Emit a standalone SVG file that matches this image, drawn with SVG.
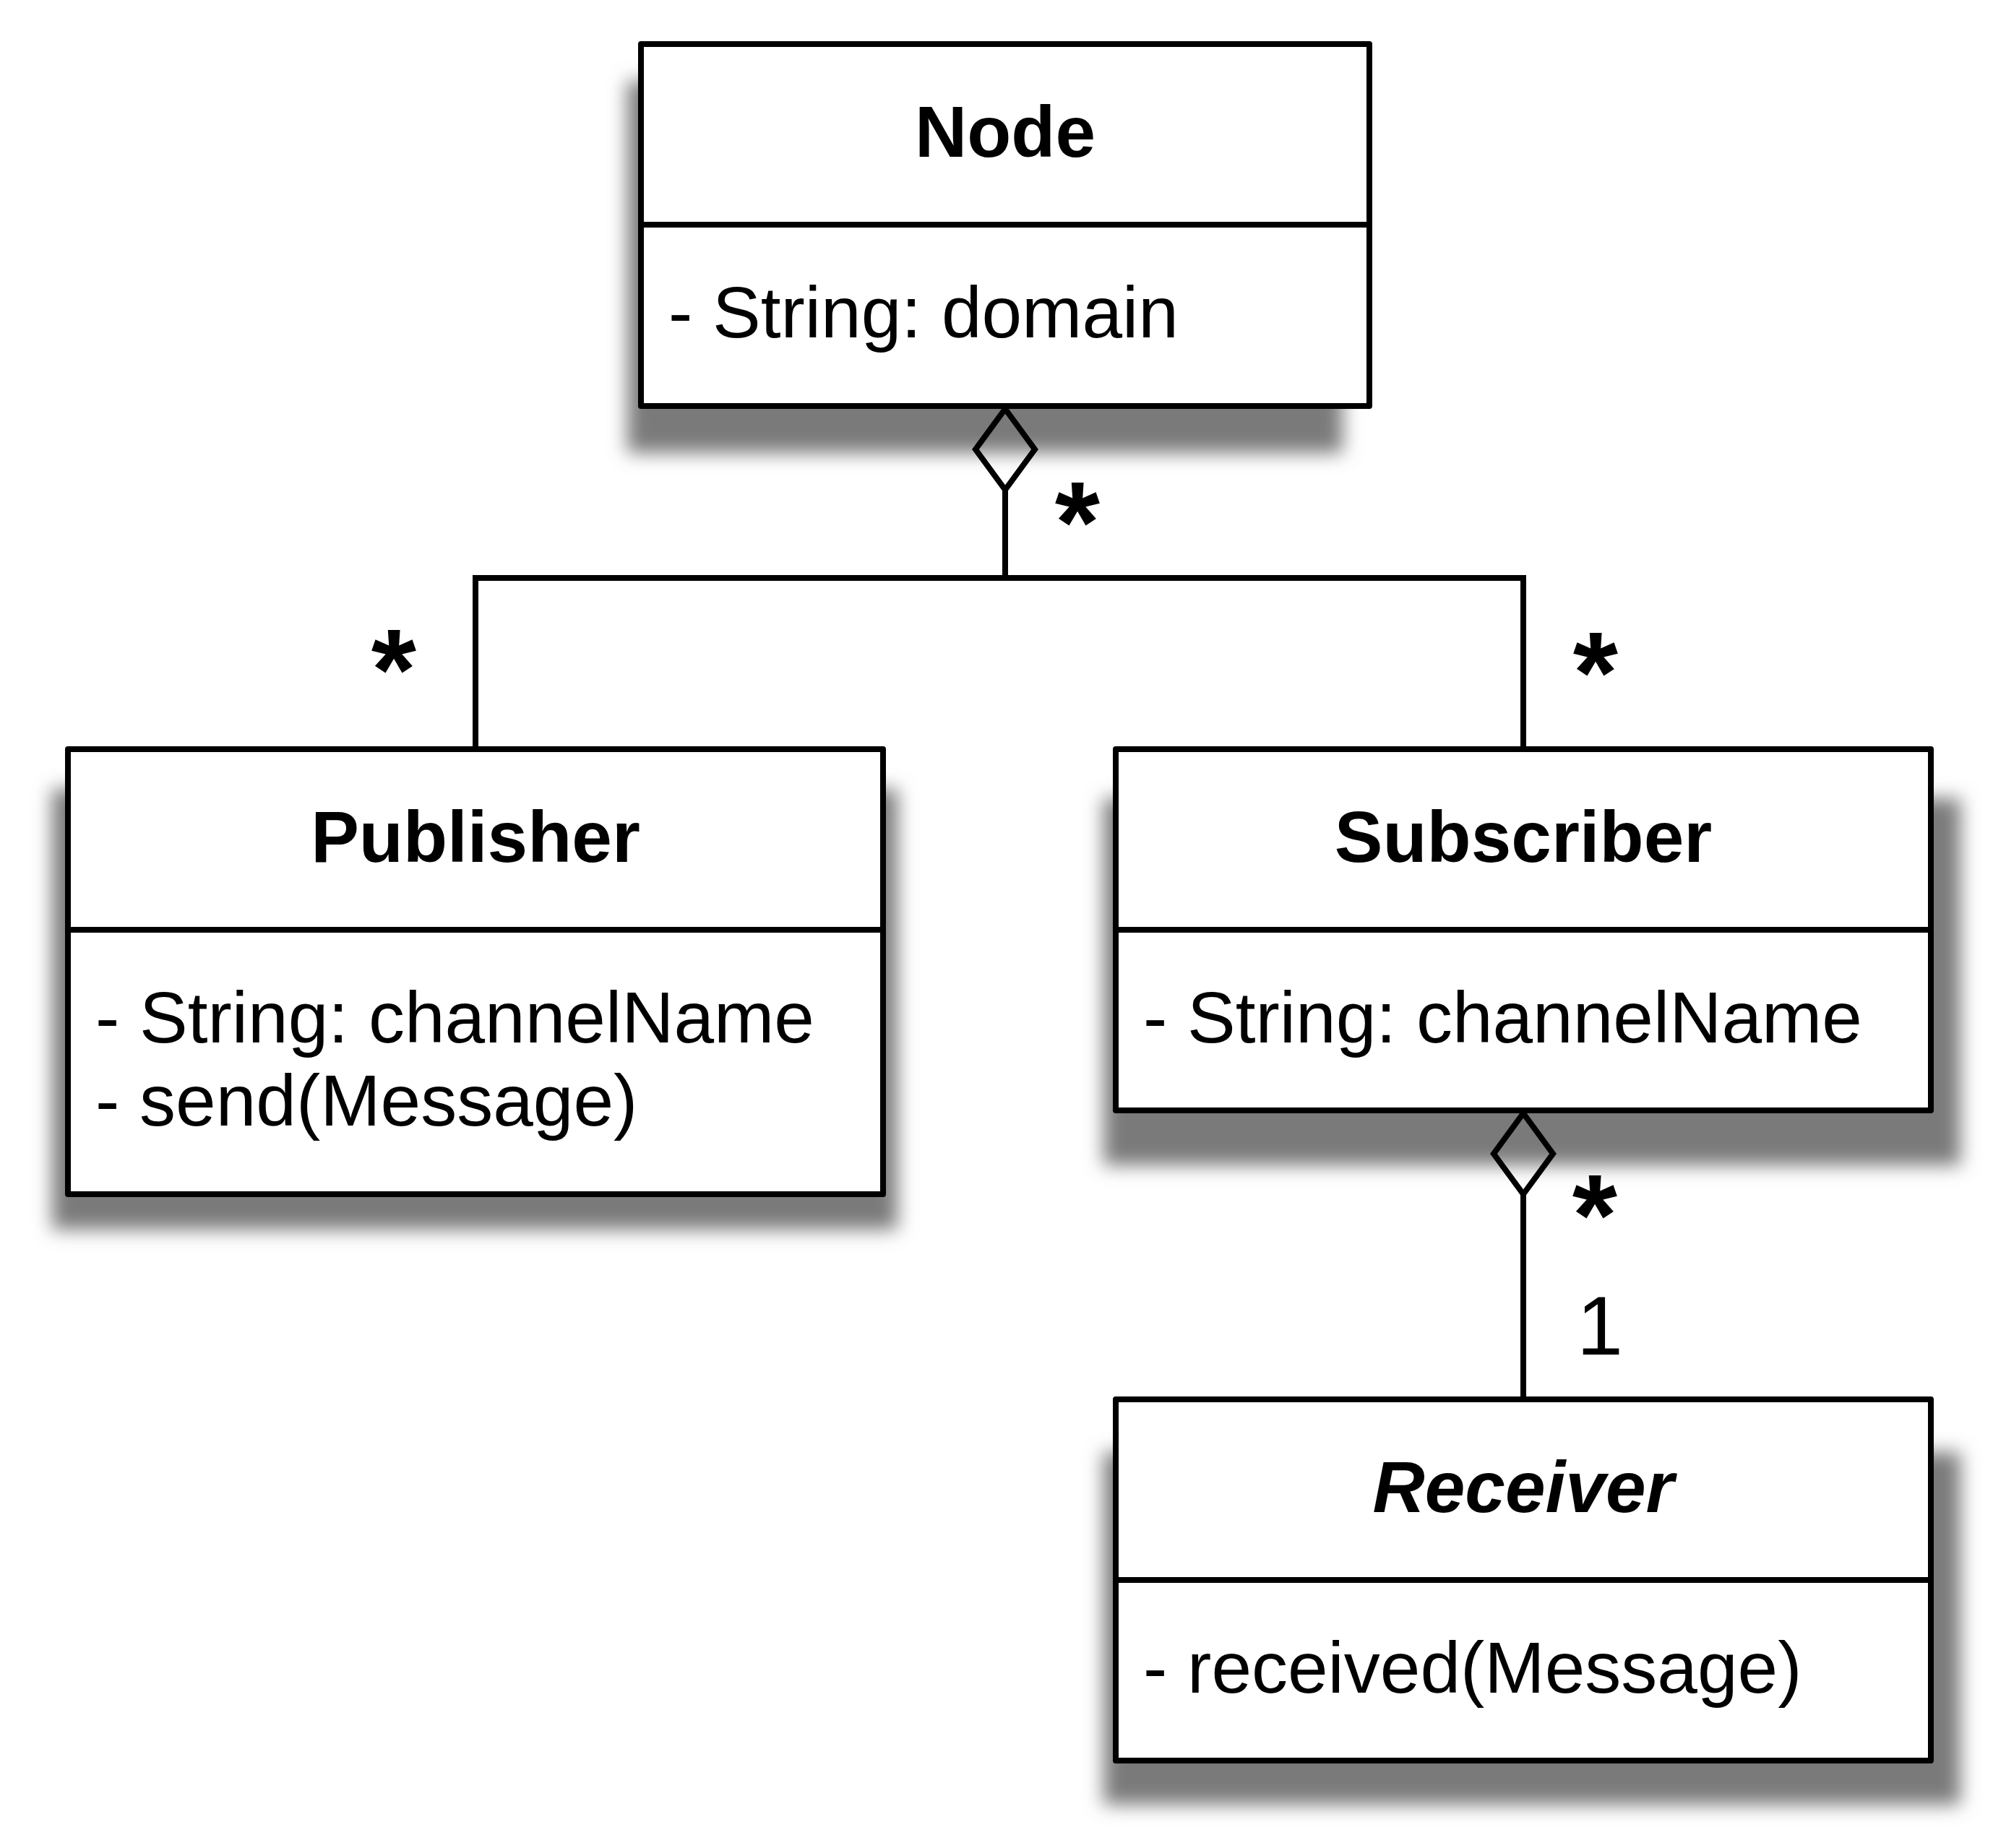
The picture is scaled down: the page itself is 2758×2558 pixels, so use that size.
<svg xmlns="http://www.w3.org/2000/svg" width="2758" height="2558" viewBox="0 0 2758 2558">
<style>
.box{fill:#ffffff;stroke:#000000;stroke-width:8;stroke-linejoin:round}
.div{stroke:#000000;stroke-width:8;fill:none}
.shadow{fill:#7a7a7a;filter:url(#blur)}
.title{font-family:"Liberation Sans",Arial,Helvetica,sans-serif;font-size:100px;font-weight:bold;text-anchor:middle;fill:#000}
.body{font-family:"Liberation Sans",Arial,Helvetica,sans-serif;font-size:100px;fill:#000}
.conn{stroke:#000;stroke-width:8;fill:none;stroke-linejoin:miter}
.mult{font-family:"Liberation Sans",Arial,Helvetica,sans-serif;font-size:160px;font-weight:bold;text-anchor:middle;fill:#000}
.one{font-family:"Liberation Sans",Arial,Helvetica,sans-serif;font-size:115px;text-anchor:middle;fill:#000}
</style>
<defs>
<filter id="blur" x="-10%" y="-10%" width="120%" height="120%"><feGaussianBlur stdDeviation="13"/></filter>
</defs>
<rect width="2758" height="2558" fill="#ffffff"/>
<g id="shadows">
<rect class="shadow" x="868" y="112" width="990" height="515"/>
<rect class="shadow" x="72" y="1092" width="1170" height="610"/>
<rect class="shadow" x="1527" y="1105" width="1186" height="508"/>
<rect class="shadow" x="1527" y="2010" width="1186" height="488"/>
</g>
<g id="connectors">
<path class="conn" d="M1391 678 L1391 800 M658 1037 L658 800 L2108 800 L2108 1037"/>
<path class="conn" d="M1391 566 L1432 622 L1391 678 L1350 622 Z"/>
<path class="conn" d="M2108 1541 L2149 1597 L2108 1653 L2067 1597 Z"/>
<path class="conn" d="M2108 1653 L2108 1937"/>
<text class="mult" x="1491" y="778">*</text>
<text class="mult" x="545" y="982">*</text>
<text class="mult" x="2208" y="986">*</text>
<text class="mult" x="2207" y="1737">*</text>
<text class="one" x="2214" y="1875">1</text>
</g>
<g id="node-Node">
<rect class="box" x="887" y="61" width="1008" height="501"/>
<line class="div" x1="887" y1="311" x2="1895" y2="311"/>
<text class="title" x="1391" y="217">Node</text>
<text class="body" x="925" y="467">- String: domain</text>
</g>
<g id="node-Publisher">
<rect class="box" x="94" y="1037" width="1128" height="616"/>
<line class="div" x1="94" y1="1287" x2="1222" y2="1287"/>
<text class="title" x="658" y="1193">Publisher</text>
<text class="body" x="132" y="1443">- String: channelName</text>
<text class="body" x="132" y="1558">- send(Message)</text>
</g>
<g id="node-Subscriber">
<rect class="box" x="1544" y="1037" width="1128" height="500"/>
<line class="div" x1="1544" y1="1287" x2="2672" y2="1287"/>
<text class="title" x="2108" y="1193">Subscriber</text>
<text class="body" x="1582" y="1443">- String: channelName</text>
</g>
<g id="node-Receiver">
<rect class="box" x="1544" y="1937" width="1128" height="500"/>
<line class="div" x1="1544" y1="2187" x2="2672" y2="2187"/>
<text class="title" x="2108" y="2093" font-style="italic">Receiver</text>
<text class="body" x="1582" y="2343">- received(Message)</text>
</g>
</svg>
